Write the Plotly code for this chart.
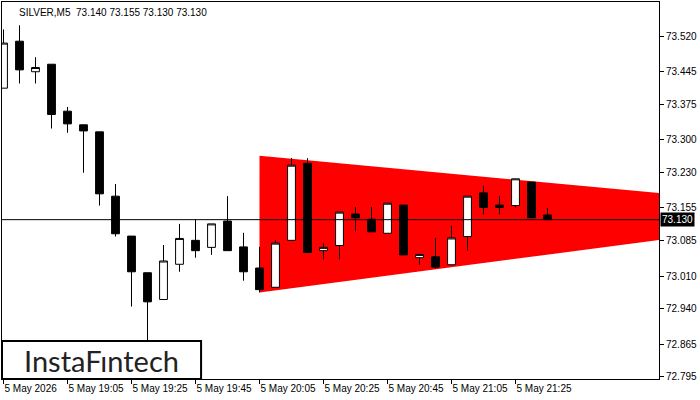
import plotly.graph_objects as go

# ---- data ----
opens  = [73.410, 73.510, 73.445, 73.461, 73.361, 73.332, 73.317, 73.180, 73.095, 73.017,
          72.960, 73.035, 73.086, 73.071, 73.127, 73.072, 73.027, 72.986, 73.086, 73.250,
          73.064, 73.075, 73.142, 73.131, 73.101, 73.161, 73.049, 73.051, 73.034, 73.094,
          73.187, 73.161, 73.160, 73.210, 73.140]
highs  = [73.535, 73.544, 73.476, 73.461, 73.370, 73.332, 73.317, 73.206, 73.095, 73.017,
          73.076, 73.121, 73.131, 73.121, 73.180, 73.102, 73.072, 73.087, 73.261, 73.261,
          73.080, 73.146, 73.157, 73.157, 73.165, 73.161, 73.056, 73.091, 73.117, 73.180,
          73.202, 73.180, 73.217, 73.210, 73.155]
lows   = [73.410, 73.420, 73.420, 73.324, 73.315, 73.230, 73.160, 73.094, 72.945, 72.872,
          72.960, 73.019, 73.049, 73.055, 73.064, 73.000, 72.975, 72.986, 73.086, 73.060,
          73.045, 73.045, 73.105, 73.104, 73.101, 73.055, 73.034, 73.026, 73.034, 73.064,
          73.141, 73.141, 73.156, 73.134, 73.130]
closes = [73.506, 73.449, 73.454, 73.354, 73.334, 73.319, 73.185, 73.100, 73.019, 72.955,
          73.042, 73.090, 73.064, 73.121, 73.064, 73.019, 72.981, 73.080, 73.246, 73.060,
          73.071, 73.146, 73.134, 73.104, 73.165, 73.055, 73.056, 73.029, 73.091, 73.180,
          73.156, 73.156, 73.217, 73.134, 73.130]
bar_index = list(range(len(opens)))

x_tick_index = [0, 4, 8, 12, 16, 20, 24, 28, 32]
x_tick_labels = ["5 May 2026", "5 May 19:05", "5 May 19:25", "5 May 19:45", "5 May 20:05",
                 "5 May 20:25", "5 May 20:45", "5 May 21:05", "5 May 21:25"]
y_tick_values = [73.520, 73.445, 73.375, 73.300, 73.230, 73.155, 73.085, 73.010, 72.940, 72.865, 72.795]

# symmetrical triangle pattern (bar index, price)
tri_x = [16, 41.5, 41.5, 16]
tri_y = [73.266, 73.185, 73.089, 72.975]

last_price = 73.130
title_text = "SILVER,M5  73.140 73.155 73.130 73.130"
logo_text = "InstaF\u0131ntech"

FONT = "Liberation Sans"

fig = go.Figure()

tri_path = "M " + " L ".join(f"{x},{y}" for x, y in zip(tri_x, tri_y)) + " Z"
fig.add_shape(type="path", xref="x", yref="y", path=tri_path,
              fillcolor="#ff0000", line=dict(width=0), layer="below")

fig.add_trace(go.Candlestick(
    x=bar_index, open=opens, high=highs, low=lows, close=closes,
    increasing=dict(line=dict(color="black", width=1), fillcolor="white"),
    decreasing=dict(line=dict(color="black", width=1), fillcolor="black"),
    whiskerwidth=0, showlegend=False, hoverinfo="skip",
))

fig.add_shape(type="line", xref="paper", yref="y", x0=0, x1=1, y0=last_price, y1=last_price,
              line=dict(color="black", width=1), layer="above")

# logo box
fig.add_shape(type="rect", xref="paper", yref="paper", x0=0, x1=0.303, y0=0, y1=0.1008,
              fillcolor="white", line=dict(color="black", width=2), layer="above")
fig.add_annotation(xref="paper", yref="paper", x=0.151, y=0.05, text=logo_text,
                   showarrow=False, font=dict(family="Lato", size=29, color="#222222"),
                   xanchor="center", yanchor="middle")

fig.add_annotation(xref="paper", yref="paper", x=0.0235, y=0.992, text=title_text,
                   showarrow=False, font=dict(family=FONT, size=10, color="black"),
                   xanchor="left", yanchor="top")

fig.add_annotation(xref="paper", yref="y", x=1, y=last_price, text=f"{last_price:.3f}",
                   showarrow=False, font=dict(family=FONT, size=10, color="white"),
                   bgcolor="black", xanchor="left", yanchor="middle", xshift=1, borderpad=1)

fig.update_layout(
    width=700, height=400,
    margin=dict(l=2, r=41, t=2, b=21),
    paper_bgcolor="white", plot_bgcolor="white",
    showlegend=False,
    font=dict(family=FONT, size=10, color="black"),
    xaxis=dict(
        range=[-0.094, 40.97], rangeslider=dict(visible=False), automargin=False,
        tickmode="array", tickvals=x_tick_index, ticktext=x_tick_labels, tickangle=0,
        ticks="outside", ticklen=4, tickcolor="black", ticklabelposition="outside right",
        showgrid=False, zeroline=False,
        showline=True, linecolor="black", linewidth=1, mirror=True,
        tickfont=dict(family=FONT, size=10, color="black"),
    ),
    yaxis=dict(
        range=[72.7907, 73.5935], side="right", automargin=False,
        tickmode="array", tickvals=y_tick_values, ticktext=[f"{v:.3f}" for v in y_tick_values],
        ticks="outside", ticklen=4, tickcolor="black",
        showgrid=False, zeroline=False,
        showline=True, linecolor="black", linewidth=1, mirror=True,
        tickfont=dict(family=FONT, size=10, color="black"),
    ),
)

fig.write_html("out.html", config={"displayModeBar": False},
               post_script="document.body.style.margin='0';document.body.style.overflow='hidden';")
